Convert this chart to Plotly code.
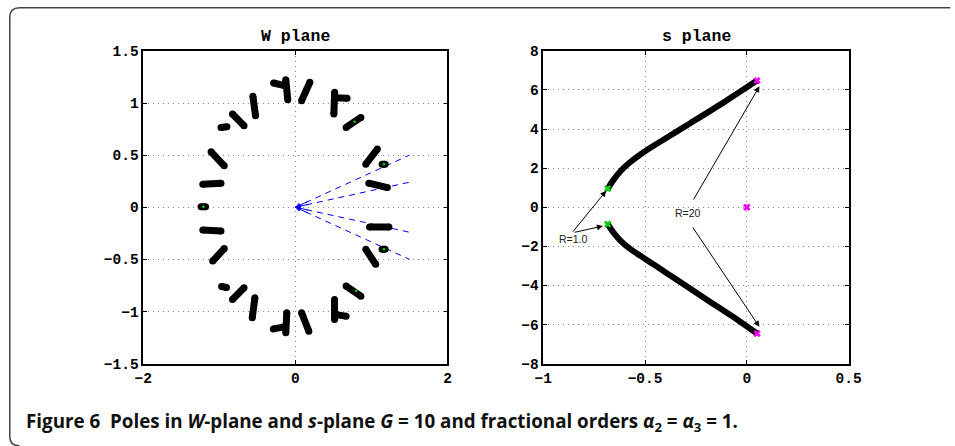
import plotly.graph_objects as go

W, H = 955, 446
# Measured mapping of this page to the returned picture: picture = S*page + B
SX, BX = 0.989, 7.1
SY, BY = 0.962, 8.2

# ---------------- data ----------------
# W-plane pole loci (each entry is one short locus segment: list of (x, y))
w_loci = [
    [(-0.126, 1.224), (-0.100, 1.032)],
    [(-0.286, 1.192), (-0.143, 1.167)],
    [(0.190, 1.199), (0.082, 1.022)],
    [(-0.558, 1.064), (-0.524, 0.878)],
    [(-0.827, 0.894), (-0.675, 0.782)],
    [(-0.978, 0.766), (-0.900, 0.772)],
    [(-1.108, 0.532), (-0.935, 0.397)],
    [(-1.217, 0.221), (-0.978, 0.231)],
    [(-1.240, 0.004), (-1.180, 0.004)],
    [(-1.217, -0.218), (-0.978, -0.228)],
    [(-0.935, -0.397), (-1.087, -0.516)],
    [(-0.970, -0.760), (-0.905, -0.770)],
    [(-0.675, -0.772), (-0.827, -0.885)],
    [(-0.532, -0.869), (-0.567, -1.061)],
    [(-0.113, -1.013), (-0.126, -1.205)],
    [(-0.290, -1.167), (-0.160, -1.150)],
    [(0.082, -1.013), (0.177, -1.189)],
    [(0.516, 1.103), (0.506, 0.894)],
    [(0.516, 1.050), (0.680, 1.045)],
    [(0.861, 0.862), (0.667, 0.766)],
    [(1.078, 0.558), (0.926, 0.413)],
    [(1.140, 0.413), (1.180, 0.413)],
    [(0.965, 0.231), (1.210, 0.189)],
    [(0.975, -0.190), (1.230, -0.190)],
    [(1.140, -0.404), (1.180, -0.404)],
    [(0.926, -0.404), (1.056, -0.548)],
    [(0.667, -0.756), (0.861, -0.853)],
    [(0.515, -0.885), (0.515, -1.077)],
    [(0.515, -1.029), (0.667, -1.045)],
]
w_green_x = [-1.21, 1.165, 1.165, 0.78, 0.80]
w_green_y = [0.004, 0.413, -0.404, 0.82, -0.80]
ray_end_x = [1.5, 1.5, 1.5, 1.5]
ray_end_y = [0.50, 0.24, -0.24, -0.50]

# s-plane root locus branches
s_up_x = [-0.683, -0.655, -0.620, -0.580, -0.530, -0.470, -0.400, -0.278, -0.117, 0.050]
s_up_y = [0.96, 1.40, 1.85, 2.25, 2.65, 3.07, 3.52, 4.30, 5.34, 6.48]
s_lo_x = [-0.683, -0.655, -0.620, -0.575, -0.521, -0.440, -0.359, -0.198, -0.036, 0.050]
s_lo_y = [-0.87, -1.30, -1.72, -2.12, -2.50, -3.05, -3.61, -4.72, -5.83, -6.46]
s_start_x = [-0.683, -0.683]
s_start_y = [0.96, -0.87]
s_end_x = [0.050, 0.050, 0.0]
s_end_y = [6.48, -6.46, 0.0]

# annotations: (label, x, y) and arrows (tail_x, tail_y, head_x, head_y)
s_labels = [("R=1.0", -0.854, -1.60), ("R=20", -0.290, -0.31)]
s_arrows = [
    (-0.861, -1.33, -0.691, 0.84),
    (-0.853, -1.30, -0.707, -0.96),
    (-0.266, 0.32, 0.062, 6.19),
    (-0.270, -0.96, 0.062, -6.12),
]

w_xticks = [-2, 0, 2]
w_xtext = ["−2", "0", "2"]
w_yticks = [-1.5, -1, -0.5, 0, 0.5, 1, 1.5]
w_ytext = ["−1.5", "−1", "−0.5", "0", "0.5", "1", "1.5"]
s_xticks = [-1, -0.5, 0, 0.5]
s_xtext = ["−1", "−0.5", "0", "0.5"]
s_yticks = [-8, -6, -4, -2, 0, 2, 4, 6, 8]
s_ytext = ["−8", "−6", "−4", "−2", "0", "2", "4", "6", "8"]

caption = ("<b>Figure 6  Poles in <i>W</i>-plane and <i>s</i>-plane <i>G</i> = 10 and "
           "fractional orders <i>α</i><sub>2</sub> = <i>α</i><sub>3</sub> = 1.</b>")

# ---------------- figure ----------------
fig = go.Figure()

bx, by = [], []
for seg in w_loci:
    for (px, py) in seg:
        bx.append(px)
        by.append(py)
    bx.append(None)
    by.append(None)

rx, ry = [], []
for ex, ey in zip(ray_end_x, ray_end_y):
    rx += [0, ex, None]
    ry += [0, ey, None]

fig.add_trace(go.Scatter(x=rx, y=ry, mode="lines", xaxis="x", yaxis="y",
                         line=dict(color="#0000ff", width=1, dash="6px,5px"),
                         hoverinfo="skip"))
fig.add_trace(go.Scatter(x=bx, y=by, mode="lines+markers", xaxis="x", yaxis="y",
                         line=dict(color="black", width=7),
                         marker=dict(color="black", size=7),
                         hoverinfo="skip"))
fig.add_trace(go.Scatter(x=w_green_x, y=w_green_y, mode="markers", xaxis="x", yaxis="y",
                         marker=dict(color="#00dd00", size=2.5), hoverinfo="skip"))

fig.add_trace(go.Scatter(x=s_up_x, y=s_up_y, mode="lines", xaxis="x2", yaxis="y2",
                         line=dict(color="black", width=6, shape="spline", smoothing=0.8),
                         hoverinfo="skip"))
fig.add_trace(go.Scatter(x=s_lo_x, y=s_lo_y, mode="lines", xaxis="x2", yaxis="y2",
                         line=dict(color="black", width=6, shape="spline", smoothing=0.8),
                         hoverinfo="skip"))
fig.add_trace(go.Scatter(x=s_start_x, y=s_start_y, mode="markers", xaxis="x2", yaxis="y2",
                         marker=dict(symbol="x", color="#00dd00", size=6,
                                     line=dict(color="#006600", width=0.5)),
                         hoverinfo="skip"))
fig.add_trace(go.Scatter(x=s_end_x, y=s_end_y, mode="markers", xaxis="x2", yaxis="y2",
                         marker=dict(symbol="x", color="#ff00ff", size=6,
                                     line=dict(color="#aa00aa", width=0.5)),
                         hoverinfo="skip"))

def px2paper_x(p):
    return ((p - BX) / SX) / W

def px2paper_y(p):
    return 1 - ((p - BY) / SY) / H

tickfont = dict(family="Liberation Mono", size=14.5, color="black", weight="bold")
axis_common = dict(showline=True, linecolor="black", linewidth=1.5, mirror="ticks",
                   ticks="inside", ticklen=4, tickcolor="black", tickwidth=1,
                   showgrid=True, gridcolor="#888888", griddash="1px,4px", gridwidth=1,
                   zeroline=False, tickfont=tickfont, fixedrange=True)

ydom = [px2paper_y(364), px2paper_y(52)]
fig.update_layout(
    width=W, height=H,
    margin=dict(l=0, r=0, t=0, b=0),
    paper_bgcolor="white", plot_bgcolor="white",
    showlegend=False,
    xaxis=dict(domain=[px2paper_x(143), px2paper_x(451)], range=[-2, 2],
               tickmode="array", tickvals=w_xticks, ticktext=w_xtext, anchor="y", **axis_common),
    yaxis=dict(domain=ydom, range=[-1.5, 1.5], tickmode="array",
               tickvals=w_yticks, ticktext=w_ytext, anchor="x", **axis_common),
    xaxis2=dict(domain=[px2paper_x(548), px2paper_x(857)], range=[-1, 0.5],
                tickmode="array", tickvals=s_xticks, ticktext=s_xtext, anchor="y2", **axis_common),
    yaxis2=dict(domain=ydom, range=[-8, 8], tickmode="array",
                tickvals=s_yticks, ticktext=s_ytext, anchor="x2", **axis_common),
)

ann = []
titlefont = dict(family="Liberation Mono", size=16.5, color="black", weight="bold")
ann.append(dict(text="W plane", x=px2paper_x(297), y=px2paper_y(38), xref="paper", yref="paper",
                showarrow=False, font=titlefont, xanchor="center", yanchor="middle"))
ann.append(dict(text="s plane", x=px2paper_x(703), y=px2paper_y(38), xref="paper", yref="paper",
                showarrow=False, font=titlefont, xanchor="center", yanchor="middle"))
ann.append(dict(text=caption, x=px2paper_x(22), y=px2paper_y(422), xref="paper", yref="paper",
                showarrow=False, xanchor="left", yanchor="middle",
                font=dict(family="Open Sans", size=18.8, color="#111")))

# blue arrowheads at origin of the W plane
for ex, ey in zip(ray_end_x, ray_end_y):
    ann.append(dict(x=0, y=0, xref="x", yref="y", ax=ex * 0.12, ay=ey * 0.12,
                    axref="x", ayref="y", text="", showarrow=True, arrowhead=2,
                    arrowsize=1, arrowwidth=1, arrowcolor="#0000ff"))

for (t, lx, ly) in s_labels:
    ann.append(dict(text=t, x=lx, y=ly, xref="x2", yref="y2", showarrow=False,
                    font=dict(family="Liberation Sans", size=10.5, color="#222")))
for (tx, ty, hx, hy) in s_arrows:
    ann.append(dict(x=hx, y=hy, ax=tx, ay=ty, xref="x2", yref="y2", axref="x2", ayref="y2",
                    text="", showarrow=True, arrowhead=2, arrowsize=1.2, arrowwidth=1,
                    arrowcolor="black", standoff=0))
fig.update_layout(annotations=ann)

# rounded border of the figure panel (left and top edges, rounded corners)
r = 10
xl = 0.8 / W
yt = 1 - 0.8 / H
yb = px2paper_y(446)
xr = px2paper_x(960)
rx_ = r / W
ry_ = r / H
path = (f"M {xl + rx_},{yb} Q {xl},{yb} {xl},{yb + ry_} "
        f"L {xl},{yt - ry_} Q {xl},{yt} {xl + rx_},{yt} L {xr},{yt}")
fig.add_shape(type="path", path=path, xref="paper", yref="paper",
              line=dict(color="#444", width=1.5))

fig.write_html("out.html", config={"displayModeBar": False},
               post_script="document.body.style.margin='0';document.body.style.overflow='hidden';")
